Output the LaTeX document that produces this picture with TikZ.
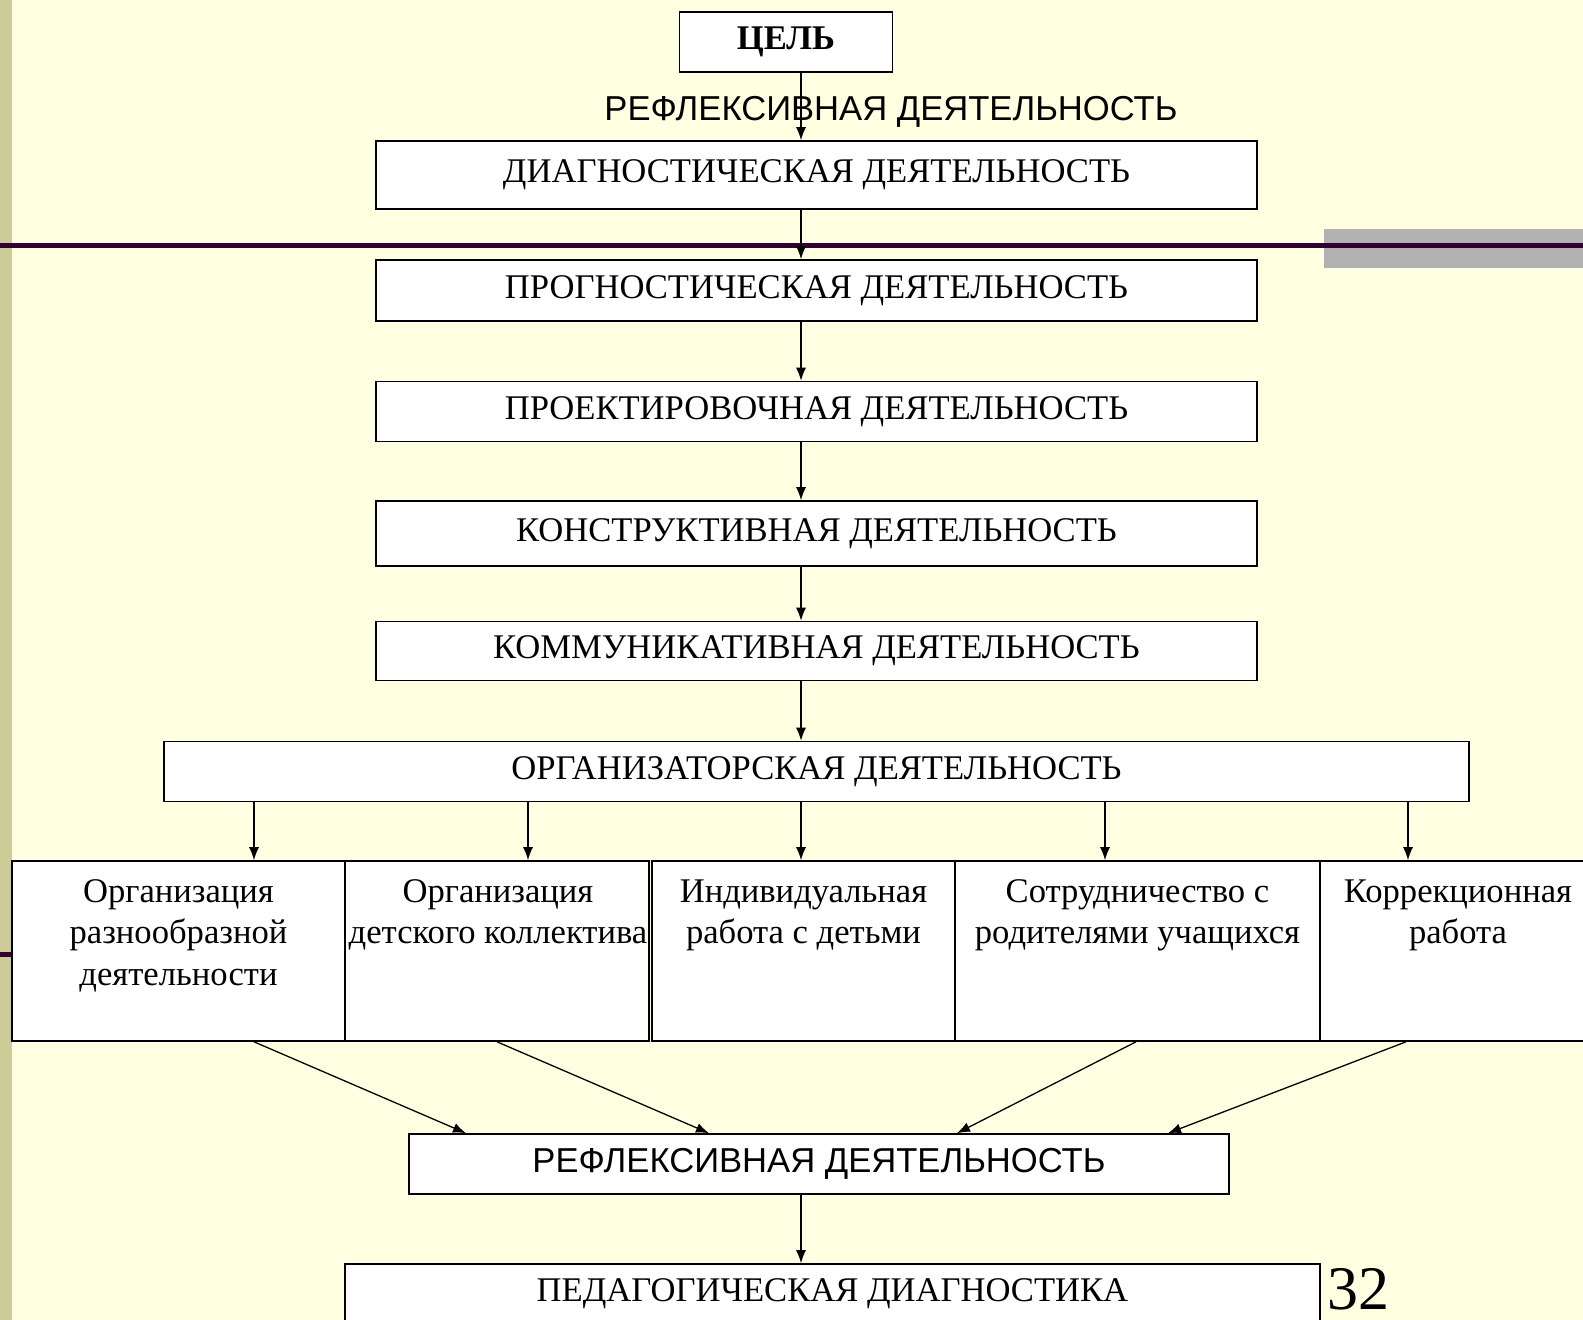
\documentclass[tikz,border=0pt]{standalone}
\usepackage{fontspec}
\setmainfont{Liberation Serif}
\newfontfamily\arialfont{Liberation Sans}
\usetikzlibrary{arrows.meta,positioning}
\definecolor{slidebg}{HTML}{FFFFE1}
\definecolor{slidestrip}{HTML}{CCCC99}
\definecolor{slideline}{HTML}{330033}
\definecolor{slidegray}{HTML}{B2B2B2}

\begin{document}
\begin{tikzpicture}[x=1pt,y=-1pt]
	% styles for the boxes and the arrows
	\tikzset{
	        >={Latex[length=13pt,width=10pt]}, % small filled arrow heads
	        flow/.style={->, line width=1.3pt},
	        box/.style={draw, line width=1.6pt, fill=white, inner sep=0pt,
	                    font=\fontsize{34.6}{41}\selectfont},
	        chainbox/.style={box, minimum width=881pt, minimum height=60pt},
	        subbox/.style={box, minimum height=180pt},
	        subtext/.style={inner sep=0pt, align=center, font=\fontsize{34.6}{41.4}\selectfont},
	}
	\useasboundingbox (0,0) rectangle (1583,1320);
	\clip (0,0) rectangle (1583,1320);
	% slide background
	\fill[slidebg] (0,0) rectangle (1583,1320);
	\fill[slidestrip] (0,0) rectangle (12,1320);
	\fill[slidegray] (1324,229) rectangle (1583,268);
	\draw[slideline, line width=4.5pt] (0,245.5) -- (1583,245.5);
	\draw[slideline, line width=5pt] (0,954) -- (12,954);
	% columns of the arrows
	\coordinate (axis) at (801,0);
	\coordinate (c1) at (254,0);
	\coordinate (c2) at (528,0);
	\coordinate (c4) at (1105,0);
	\coordinate (c5) at (1408,0);
	\coordinate (s2) at (497,0);
	\coordinate (s4) at (1136,0);
	\coordinate (s5) at (1406,0);
	\coordinate (d1) at (466,0);
	\coordinate (d2) at (709,0);
	\coordinate (d4) at (957,0);
	\coordinate (d5) at (1168,0);
	% the chain of activities
	\node[box, minimum width=213pt, minimum height=60pt, font=\fontsize{34.6}{41}\selectfont\bfseries] (cel) at (786,42) {ЦЕЛЬ};
	\node[font=\arialfont\fontsize{34.6}{41}\selectfont, inner sep=0pt] (reftop) at (891,112) {РЕФЛЕКСИВНАЯ ДЕЯТЕЛЬНОСТЬ};
	\node[chainbox, minimum height=68pt] (diag) at (816.5,175) {ДИАГНОСТИЧЕСКАЯ ДЕЯТЕЛЬНОСТЬ};
	\node[chainbox, minimum height=61pt] (prog) at (816.5,290.5) {ПРОГНОСТИЧЕСКАЯ ДЕЯТЕЛЬНОСТЬ};
	\node[chainbox] (proekt) at (816.5,411.5) {ПРОЕКТИРОВОЧНАЯ ДЕЯТЕЛЬНОСТЬ};
	\node[chainbox, minimum height=65pt] (konstr) at (816.5,533.5) {КОНСТРУКТИВНАЯ ДЕЯТЕЛЬНОСТЬ};
	\node[chainbox, minimum height=59pt] (komm) at (816.5,651) {КОММУНИКАТИВНАЯ ДЕЯТЕЛЬНОСТЬ};
	\node[box, minimum width=1305pt, minimum height=60pt] (org) at (816.5,771.5) {ОРГАНИЗАТОРСКАЯ ДЕЯТЕЛЬНОСТЬ};
	% the five kinds of organisation, text set at the top of each box
	\node[subbox, minimum width=333pt] (b1) at (178.5,951) {};
	\node[subbox, minimum width=304pt] (b2) at (497,951) {};
	\node[subbox, minimum width=303pt] (b3) at (803.5,951) {};
	\node[subbox, minimum width=365pt] (b4) at (1137.5,951) {};
	\node[subbox, minimum width=280pt] (b5) at (1460,951) {};
	\node[subtext, below=19pt of b1.north] {Организация\\разнообразной\\деятельности};
	\node[subtext, below=19pt of b2.north, xshift=1pt] {Организация\\детского коллектива};
	\node[subtext, below=19pt of b3.north] {Индивидуальная\\работа с детьми};
	\node[subtext, below=19pt of b4.north] {Сотрудничество с\\родителями учащихся};
	\node[subtext, below=19pt of b5.north, xshift=-2pt] {Коррекционная\\работа};
	\node[box, minimum width=820pt, minimum height=60pt, font=\arialfont\fontsize{34.6}{41}\selectfont] (refl) at (819,1164) {РЕФЛЕКСИВНАЯ ДЕЯТЕЛЬНОСТЬ};
	\node[box, minimum width=975pt, minimum height=60pt] (ped) at (832.5,1294) {ПЕДАГОГИЧЕСКАЯ ДИАГНОСТИКА};
	\node[font=\fontsize{62}{70}\selectfont, inner sep=0pt] (num) at (1358,1289) {32};
	% the arrows
	\draw[flow] (cel.south -| axis) -- (diag.north -| axis);
	\draw[flow] (diag.south -| axis) -- (prog.north -| axis);
	\draw[flow] (prog.south -| axis) -- (proekt.north -| axis);
	\draw[flow] (proekt.south -| axis) -- (konstr.north -| axis);
	\draw[flow] (konstr.south -| axis) -- (komm.north -| axis);
	\draw[flow] (komm.south -| axis) -- (org.north -| axis);
	\draw[flow] (org.south -| c1) -- (b1.north -| c1);
	\draw[flow] (org.south -| c2) -- (b2.north -| c2);
	\draw[flow] (org.south -| axis) -- (b3.north -| axis);
	\draw[flow] (org.south -| c4) -- (b4.north -| c4);
	\draw[flow] (org.south -| c5) -- (b5.north -| c5);
	\draw[flow] (b1.south -| c1) -- (refl.north -| d1);
	\draw[flow] (b2.south -| s2) -- (refl.north -| d2);
	\draw[flow] (b4.south -| s4) -- (refl.north -| d4);
	\draw[flow] (b5.south -| s5) -- (refl.north -| d5);
	\draw[flow] (refl.south -| axis) -- (ped.north -| axis);
\end{tikzpicture}
\end{document}
